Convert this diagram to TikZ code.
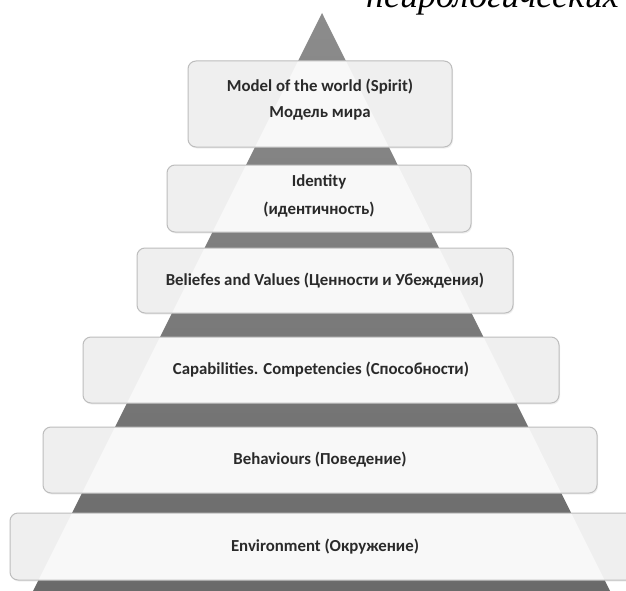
\documentclass[tikz,border=0pt]{standalone}
\usepackage{fontspec}
\setmainfont{Carlito}
\newfontfamily\serifit{Liberation Serif}
\usetikzlibrary{shadows}
\definecolor{boxfill}{HTML}{EFEFEF}
\definecolor{boxline}{HTML}{BDBDBD}
\definecolor{txt}{HTML}{2A2A2A}
\definecolor{pyrtop}{HTML}{8C8C8C}
\definecolor{pyrbot}{HTML}{6A6A6A}
\tikzset{
  levelbox/.style={draw=boxline, line width=1pt, fill=boxfill, rounded corners=8pt,
    font=\bfseries\fontsize{16.8}{20}\selectfont, text=txt, align=center,
    drop shadow={opacity=0.12, shadow xshift=1pt, shadow yshift=-1.5pt},
    path picture={\fill[white,opacity=0.6] (apex) -- (bl) -- (br) -- cycle;}},
  toptext/.style={font=\serifit\itshape\fontsize{36}{40}\selectfont, text=black, anchor=base west, inner sep=0pt}
}
\begin{document}
\begin{tikzpicture}[x=1pt,y=-1pt]
\useasboundingbox (0,0) rectangle (626,591);
\clip (0,0) rectangle (626,591);
\fill[white] (0,0) rectangle (626,591);
\coordinate (apex) at (322,13);
\coordinate (bl) at (33,591);
\coordinate (br) at (610,591);
\shade[top color=pyrtop, bottom color=pyrbot] (apex) -- (bl) -- (br) -- cycle;
\node[toptext] (title) at (366,8) {нейрологических};
\node[levelbox, minimum width=264pt, minimum height=86pt] (model) at (320,104)
  {Model of the world (Spirit)\\[6pt]Модель мира\\[-8pt]\mbox{}};
\node[levelbox, minimum width=304pt, minimum height=67pt] (ident) at (319,198.5)
  {Identity\\[8pt](идентичность)\\[-13pt]\mbox{}};
\node[levelbox, minimum width=376pt, minimum height=65pt] (belief) at (325,280.5)
  {Beliefes and Values (Ценности и Убеждения)};
\node[levelbox, minimum width=476pt, minimum height=66pt] (capab) at (321,370)
  {Capabilities. Competencies (Способности)};
\node[levelbox, minimum width=554pt, minimum height=66pt] (behav) at (320,460)
  {Behaviours (Поведение)};
\node[levelbox, minimum width=640pt, minimum height=67pt] (envir) at (330,546.5)
  {\hspace*{-10pt}Environment (Окружение)};
\end{tikzpicture}
\end{document}
